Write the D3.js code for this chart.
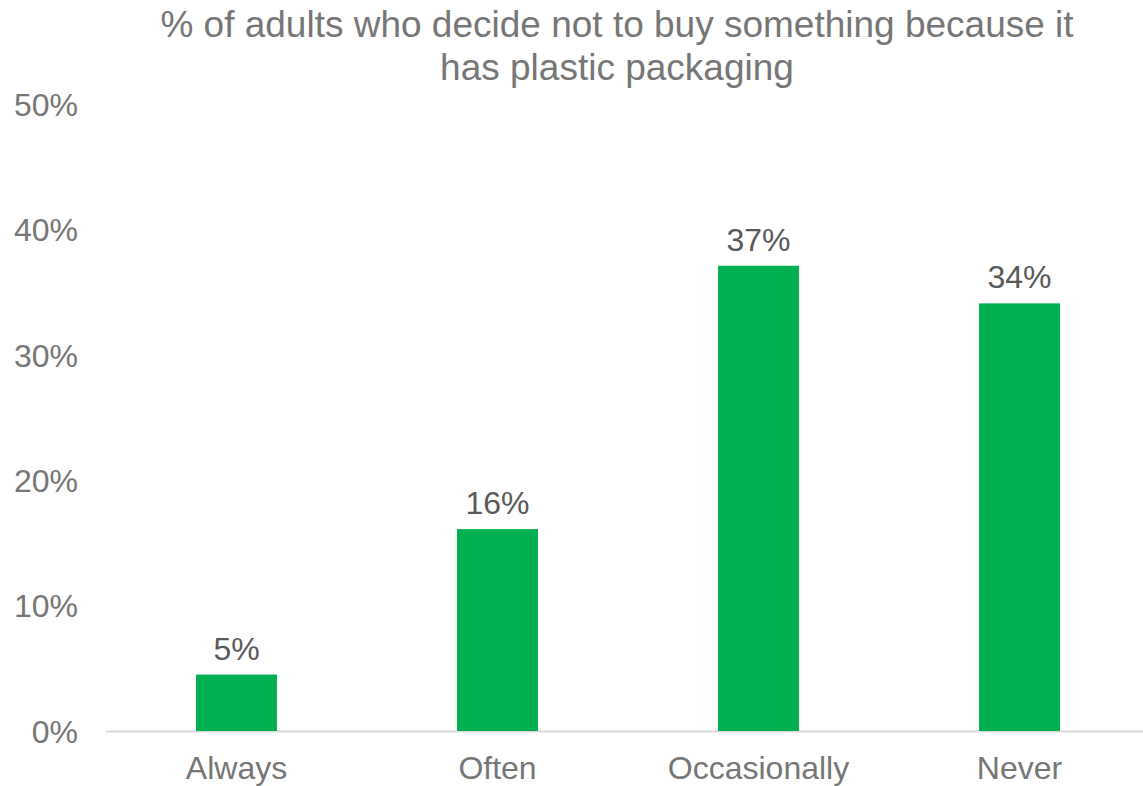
<!DOCTYPE html>
<html><head><meta charset="utf-8">
<script src="https://cdn.jsdelivr.net/npm/d3@7"></script>
<style>body{margin:0;background:#fff}svg{display:block}text{font-family:"Liberation Sans",Arial,sans-serif}</style>
</head><body>
<svg id="c" width="1143" height="786"></svg>
<script>
const titleLines = ["% of adults who decide not to buy something because it", "has plastic packaging"];
const categories = ["Always", "Often", "Occasionally", "Never"];
const values = [4.5, 16.1, 37.1, 34.1];
const valueLabels = ["5%", "16%", "37%", "34%"];
const yTicks = [0, 10, 20, 30, 40, 50];

const svg = d3.select("#c");
const x = d3.scaleBand().domain(categories).range([106, 1150]).paddingInner(0.69).paddingOuter(0.345);
const y = d3.scaleLinear().domain([0, 50]).range([731, 104]);

svg.append("g").selectAll("text").data(titleLines).join("text")
  .attr("x", 617).attr("y", (d, i) => 37 + i * 43)
  .attr("text-anchor", "middle").attr("font-size", 37).attr("fill", "#767676").text(d => d);

const yAxis = svg.append("g").attr("transform", "translate(78,0)")
  .call(d3.axisLeft(y).tickValues(yTicks).tickFormat(d => d + "%").tickSize(0).tickPadding(0));
yAxis.select(".domain").remove();
yAxis.selectAll("text").attr("font-size", 32).attr("fill", "#767676").attr("dy", "0.35em").style("font-family", '"Liberation Sans",Arial,sans-serif');

svg.append("line").attr("x1", 106).attr("x2", 1143).attr("y1", y(0) + 0.5).attr("y2", y(0) + 0.5)
  .attr("stroke", "#d9d9d9").attr("stroke-width", 2);

svg.append("g").selectAll("rect").data(values).join("rect")
  .attr("x", (d, i) => x(categories[i])).attr("width", x.bandwidth())
  .attr("y", d => y(d)).attr("height", d => y(0) - y(d)).attr("fill", "#00b050");

svg.append("g").selectAll("text").data(values).join("text")
  .attr("x", (d, i) => x(categories[i]) + x.bandwidth() / 2).attr("y", d => y(d) - 15)
  .attr("text-anchor", "middle").attr("font-size", 32).attr("fill", "#595959")
  .text((d, i) => valueLabels[i]);

const xAxis = svg.append("g").attr("transform", "translate(0," + y(0) + ")")
  .call(d3.axisBottom(x).tickSize(0).tickPadding(0));
xAxis.select(".domain").remove();
xAxis.selectAll("text").attr("font-size", 32).attr("fill", "#767676").attr("dy", "0").attr("y", 48).style("font-family", '"Liberation Sans",Arial,sans-serif');
</script>
</body></html>
